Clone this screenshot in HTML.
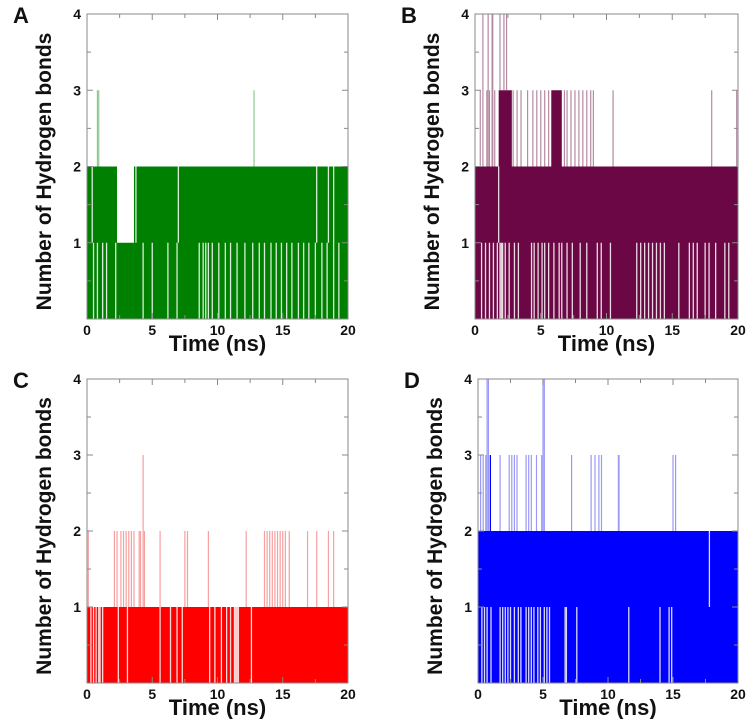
<!DOCTYPE html>
<html><head><meta charset="utf-8"><style>
html,body{margin:0;padding:0;background:#fff;}
svg{display:block;font-family:"Liberation Sans",Arial,sans-serif;}
</style></head><body>
<svg id="fig" width="750" height="719" viewBox="0 0 750 719"></svg>
<script>
// ---- data (time in ns, values = number of hydrogen bonds) ----
const xTicks = [0, 5, 10, 15, 20];
const yTicks = [0, 1, 2, 3, 4];
// Panel A
const segA = [[0,2.3,0,2],[2.3,3.6,0,1],[3.6,20,0,2]];
const spikeA = [[0.8,2,3],[0.9,2,3],[12.8,2,3]];
const gapA = [[0.5,0,1],[0.8,0,1],[1.2,0,1],[1.5,0,1],[2.2,0,1],[4.3,0,1],[5.0,0,1],[6.2,0,1],[6.9,0,1],[8.6,0,1],[8.9,0,1],[9.1,0,1],[9.3,0,1],[9.6,0,1],[10.1,0,1],[10.6,0,1],[11.0,0,1],[11.5,0,1],[12.1,0,1],[12.7,0,1],[13.2,0,1],[13.6,0,1],[14.1,0,1],[14.5,0,1],[14.9,0,1],[15.3,0,1],[15.7,0,1],[16.2,0,1],[16.6,0,1],[17.0,0,1],[17.5,0,1],[18.0,0,1],[18.4,0,1],[18.9,0,1],[19.3,0,1],[0.4,1,2],[3.75,1,2],[7.0,1,2],[17.6,1,2],[18.5,1,2],[18.9,1,2]];
// Panel B
const segB = [[0,20,0,2],[1.8,2.8,2,3],[5.8,6.6,2,3]];
const spikeB = [[0.4,2,3],[0.6,2,4],[0.9,2,3],[1.0,2,4],[1.1,2,3],[1.3,2,4],[1.35,2,4],[1.5,2,3],[1.9,3,4],[2.2,3,4],[2.4,3,4],[2.9,2,3],[3.2,2,3],[3.5,2,3],[4.0,2,3],[4.4,2,3],[4.7,2,3],[5.0,2,3],[5.3,2,3],[5.6,2,3],[6.8,2,3],[7.0,2,3],[7.3,2,3],[7.6,2,3],[7.9,2,3],[8.2,2,3],[8.5,2,3],[8.8,2,3],[9.0,2,3],[10.5,2,3],[18.0,2,3],[19.9,2,3]];
const gapB = [[0.5,0,1],[0.8,0,1],[1.1,0,1],[1.4,0,1],[1.7,0,1],[1.9,0,1],[2.0,0,1],[2.1,0,1],[2.3,0,1],[2.6,0,1],[3.0,0,1],[3.3,0,1],[4.3,0,1],[4.5,0,1],[4.8,0,1],[5.1,0,1],[5.3,0,1],[5.6,0,1],[6.0,0,1],[6.4,0,1],[6.6,0,1],[7.0,0,1],[7.4,0,1],[8.0,0,1],[8.5,0,1],[9.3,0,1],[9.6,0,1],[10.3,0,1],[12.3,0,1],[12.6,0,1],[12.9,0,1],[13.2,0,1],[13.5,0,1],[13.8,0,1],[14.1,0,1],[14.4,0,1],[15.5,0,1],[16.3,0,1],[16.6,0,1],[16.9,0,1],[17.5,0,1],[17.8,0,1],[18.3,0,1],[19.0,0,1],[19.3,0,1],[1.8,1,2]];
// Panel C
const segC = [[0,20,0,1]];
const spikeC = [[0.1,1,2],[2.1,1,2],[2.3,1,2],[2.6,1,2],[2.8,1,2],[3.0,1,2],[3.2,1,2],[3.4,1,2],[3.6,1,2],[4.0,1,2],[4.1,1,2],[4.3,1,3],[4.4,1,2],[5.6,1,2],[7.5,1,2],[7.7,1,2],[9.3,1,2],[12.2,1,2],[13.6,1,2],[13.8,1,2],[14.0,1,2],[14.2,1,2],[14.4,1,2],[14.6,1,2],[14.8,1,2],[15.0,1,2],[15.2,1,2],[15.5,1,2],[16.9,1,2],[17.6,1,2],[18.5,1,2],[18.9,1,2]];
const gapC = [[0.3,0,1],[0.5,0,1],[0.7,0,1],[0.9,0,1],[1.0,0,1],[1.2,0,1],[2.4,0,1],[3.1,0,1],[5.6,0,1],[6.4,0,1],[6.9,0,1],[7.3,0,1],[9.4,0,1],[9.8,0,1],[10.3,0,1],[10.7,0,1],[11.0,0,1],[11.3,0,1],[11.4,0,1],[11.5,0,1],[11.6,0,1],[12.6,0,1]];
// Panel D
const segD = [[0,20,0,2],[0.9,1.0,2,3]];
const spikeD = [[0.2,2,3],[0.4,2,3],[0.6,2,3],[0.7,2,4],[0.8,2,4],[1.7,2,3],[2.4,2,3],[2.6,2,3],[2.8,2,3],[3.0,2,3],[3.7,2,3],[3.9,2,3],[4.1,2,3],[4.5,2,3],[4.9,2,3],[5.0,2,4],[5.1,2,4],[7.2,2,3],[8.7,2,3],[9.0,2,3],[9.3,2,3],[9.5,2,3],[10.8,2,3],[10.85,2,3],[15.0,2,3],[15.2,2,3]];
const gapD = [[0.3,0,1],[0.5,0,1],[0.7,0,1],[1.0,0,1],[1.7,0,1],[1.9,0,1],[2.1,0,1],[2.3,0,1],[2.5,0,1],[2.8,0,1],[3.1,0,1],[3.3,0,1],[3.7,0,1],[3.9,0,1],[4.1,0,1],[4.3,0,1],[4.6,0,1],[4.8,0,1],[5.1,0,1],[5.3,0,1],[5.5,0,1],[6.7,0,1],[6.8,0,1],[7.6,0,1],[11.6,0,1],[14.0,0,1],[14.7,0,1],[14.9,0,1],[17.8,1,2]];

const NS = "http://www.w3.org/2000/svg";
const svg = document.getElementById('fig');
function mk(tag, attrs, parent) {
  const e = document.createElementNS(NS, tag);
  for (const k in attrs) e.setAttribute(k, attrs[k]);
  (parent || svg).appendChild(e);
  return e;
}
const panels = [
  {id:'a', letter:'A', x0:87, x1:348, y0:319, y1:14, color:'#008000', light:'#8fc88f', seg:segA, spike:spikeA, gap:gapA},
  {id:'b', letter:'B', x0:475, x1:738, y0:319, y1:14, color:'#6b0744', light:'#b48aa2', seg:segB, spike:spikeB, gap:gapB},
  {id:'c', letter:'C', x0:87, x1:348, y0:683, y1:379, color:'#ff0000', light:'#f7a0a0', seg:segC, spike:spikeC, gap:gapC},
  {id:'d', letter:'D', x0:478, x1:738, y0:683, y1:379, color:'#0000ff', light:'#9a9af5', seg:segD, spike:spikeD, gap:gapD}
];
panels.forEach(p => {
  const g = mk('g', {});
  
  
  const X = t => p.x0 + (t / 20) * (p.x1 - p.x0);
  const Y = v => p.y0 + (v / 4) * (p.y1 - p.y0);
  p.seg.forEach(s => {
    const r = mk('rect', {x:X(s[0]), y:Y(s[3]), width:X(s[1])-X(s[0]), height:Y(s[2])-Y(s[3]), fill:p.color}, g);
    
    
  });
  p.gap.forEach(s => {
    const l = mk('line', {x1:X(s[0]), x2:X(s[0]), y1:Y(s[1]), y2:Y(s[2]), stroke:'#fff', 'stroke-width':1.3, opacity:0.85}, g);
    
    
  });
  p.spike.forEach(s => {
    const l = mk('line', {x1:X(s[0]), x2:X(s[0]), y1:Y(s[1]), y2:Y(s[2]), stroke:p.light, 'stroke-width':1.2}, g);
    
    
  });
  const fr = mk('rect', {x:p.x0, y:p.y1, width:p.x1-p.x0, height:p.y0-p.y1, fill:'none', stroke:'#8a8a8a', 'stroke-width':1}, g);
  
  
  for (let v = 0; v <= 4; v += 0.5) {
    const len = (v % 1 === 0) ? 6 : 4;
    mk('line', {x1:p.x0, x2:p.x0+len, y1:Y(v), y2:Y(v), stroke:'#8a8a8a'}, g);
    mk('line', {x1:p.x1, x2:p.x1-len, y1:Y(v), y2:Y(v), stroke:'#8a8a8a'}, g);
  }
  for (let t = 0; t <= 20; t += 2.5) {
    const len = (t % 5 === 0) ? 6 : 4;
    mk('line', {x1:X(t), x2:X(t), y1:p.y1, y2:p.y1+len, stroke:'#8a8a8a'}, g);
    mk('line', {x1:X(t), x2:X(t), y1:p.y0, y2:p.y0-len, stroke:'#8a8a8a'}, g);
  }
  yTicks.forEach(v => {
    if (v === 0) return;
    const tx = mk('text', {x:p.x0-6, y:Y(v)+5, 'text-anchor':'end', 'font-size':14, 'font-weight':'bold', fill:'#111'}, g);
    tx.textContent = v;
    
    
  });
  xTicks.forEach(t => {
    const tx = mk('text', {x:X(t), y:p.y0+16, 'text-anchor':'middle', 'font-size':14, 'font-weight':'bold', fill:'#111'}, g);
    tx.textContent = t;
    
    
  });
  const xt = mk('text', {x:(p.x0+p.x1)/2, y:p.y0+32, 'text-anchor':'middle', 'font-size':22, 'font-weight':'bold', fill:'#111'}, g);
  xt.textContent = 'Time (ns)';
  
  
  const cy = (p.y0 + p.y1) / 2 + 5, cx = p.x0 - 36;
  const yt = mk('text', {x:cx, y:cy, 'text-anchor':'middle', 'font-size':21, 'font-weight':'bold', fill:'#111', transform:'rotate(-90 '+cx+' '+cy+')'}, g);
  yt.textContent = 'Number of Hydrogen bonds';
  
  
  const lt = mk('text', {x:p.x0-74, y:p.y1+9, 'font-size':22, 'font-weight':'bold', fill:'#111'}, g);
  lt.textContent = p.letter;
  
  
});
</script>
</body></html>
